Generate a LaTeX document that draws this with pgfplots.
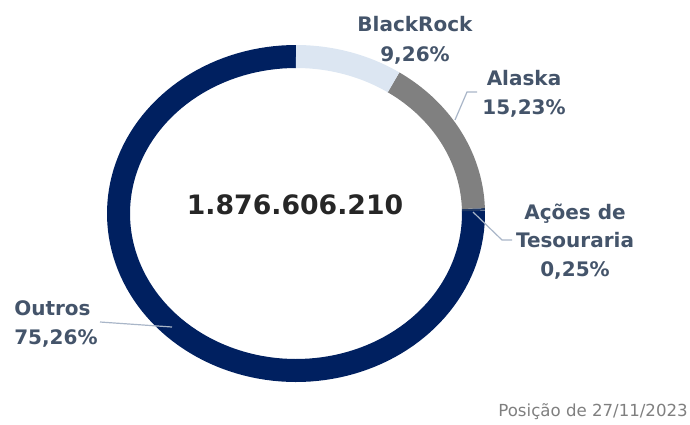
\documentclass[border=0pt]{standalone}
\usepackage{pgfplots}
\pgfplotsset{compat=1.18}
\usepackage{fontspec}
\setmainfont{DejaVu Sans}
\definecolor{navy}{HTML}{002060}
\definecolor{lightbl}{HTML}{DCE6F2}
\definecolor{midgray}{HTML}{808080}
\definecolor{acoes}{HTML}{1F3864}
\definecolor{lab}{HTML}{44546A}
\definecolor{leader}{HTML}{A9B6C8}
\definecolor{foot}{HTML}{7F7F7F}
% shares (percent)
\def\pBR{9.26}
\def\pAL{15.23}
\def\pAT{0.25}
\def\pOU{75.26}
\pgfmathsetmacro\aA{90}
\pgfmathsetmacro\aB{\aA-3.6*\pBR}
\pgfmathsetmacro\aC{\aB-3.6*\pAL}
\pgfmathsetmacro\aD{\aC-3.6*\pAT}
\pgfmathsetmacro\aE{\aD-3.6*\pOU}
\begin{document}
\begin{tikzpicture}
\begin{axis}[
  scale only axis, width=6.9in, height=4.23in,
  xmin=0, xmax=690, ymin=0, ymax=423,
  hide axis, clip=false,
]
\path (rel axis cs:0,0) rectangle (rel axis cs:1,1);
% ring segments
\addplot[navy, line width=0.23in, domain=\aE:\aD, samples=120] ({296+177.5*cos(x)},{209.5+157*sin(x)});
\addplot[acoes, line width=0.23in, domain=\aD:\aC, samples=3] ({296+177.5*cos(x)},{209.5+157*sin(x)});
\addplot[midgray, line width=0.23in, domain=\aC:\aB, samples=40] ({296+177.5*cos(x)},{209.5+157*sin(x)});
\addplot[lightbl, line width=0.23in, domain=\aB:\aA, samples=30] ({296+177.5*cos(x)},{209.5+157*sin(x)});
% leader lines
\addplot[leader, line width=0.012in] coordinates {(455,303) (467,331) (477,331)};
\addplot[leader, line width=0.012in] coordinates {(473,211) (502,183) (512,183)};
\addplot[leader, line width=0.012in] coordinates {(100,101) (172,96)};
% labels
\node[text=lab, align=center, font=\bfseries\fontsize{14.45pt}{21.5pt}\selectfont] at (axis cs:415,383) {BlackRock\\9,26\%};
\node[text=lab, align=center, font=\bfseries\fontsize{14.45pt}{20.5pt}\selectfont] at (axis cs:524,329) {Alaska\\15,23\%};
\node[text=lab, align=center, font=\bfseries\fontsize{14.45pt}{20.5pt}\selectfont] at (axis cs:575,181.5) {Ações de\\Tesouraria\\0,25\%};
\node[text=lab, align=left, anchor=west, inner xsep=0pt, font=\bfseries\fontsize{14.45pt}{21.5pt}\selectfont] at (axis cs:14,99) {Outros\\75,26\%};
\node[text=black!85, font=\bfseries\fontsize{19.3pt}{23pt}\selectfont] at (axis cs:295,218) {1.876.606.210};
\node[text=foot, anchor=east, inner xsep=0pt, font=\fontsize{12pt}{14pt}\selectfont] at (axis cs:688,11) {Posição de 27/11/2023};
\end{axis}
\end{tikzpicture}
\end{document}
